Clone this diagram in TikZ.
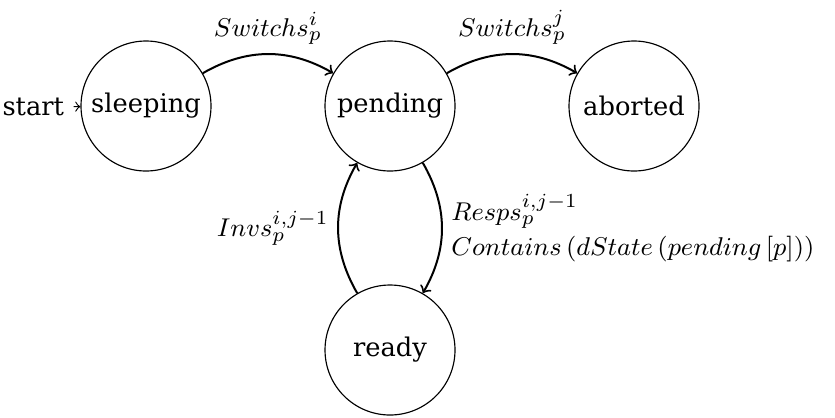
\documentclass[tikz,border=0pt]{standalone}
\usepackage[no-math]{fontspec}
\newfontfamily\statefont{DejaVu Serif}
\usetikzlibrary{arrows}
\begin{document}
\begin{tikzpicture}[x=0.35pt,y=0.35pt,
  statebox/.style={circle,draw,thin,minimum size=45.5pt,inner sep=0pt,font=\statefont\fontsize{9}{11}\selectfont},
  edge/.style={->,line width=0.7pt},
  lbl/.style={inner sep=3pt,font=\fontsize{9.4}{12.2}\selectfont}]
\useasboundingbox (0,0) rectangle (835,417);
\node[statebox] (sleeping) at (146,311) {sleeping};
\node[statebox] (pending) at (390,311) {pending};
\node[statebox] (aborted) at (634,311) {aborted};
\node[statebox] (ready) at (390,67) {ready};
\node[font=\statefont\fontsize{9}{11}\selectfont,inner sep=0pt,outer sep=0pt,anchor=east] (start) at (64,310) {start};
\draw[->,thin,shorten <=3.4pt] (start) -- (sleeping);
\draw[edge] (sleeping) to[bend left] node[lbl,above] {$Switchs_p^i$} (pending);
\draw[edge] (pending) to[bend left] node[lbl,above] {$Switchs_p^j$} (aborted);
\draw[edge] (pending) to[bend left] node[lbl,right,align=left] {$Resps_p^{i,j-1}$\\$Contains\left(dState\left(pending\left[p\right]\right)\right)$} (ready);
\draw[edge] (ready) to[bend left] node[lbl,left] {$Invs_p^{i,j-1}$} (pending);
\end{tikzpicture}
\end{document}
